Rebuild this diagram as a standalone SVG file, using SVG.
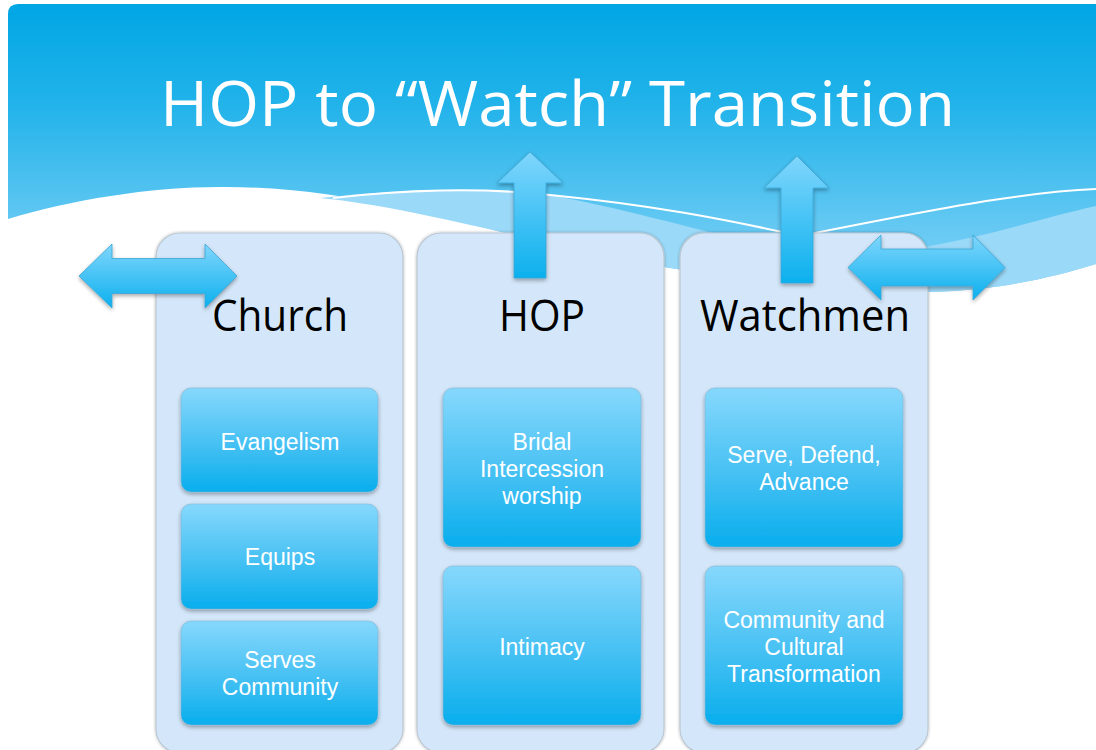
<svg xmlns="http://www.w3.org/2000/svg" width="1096" height="750" viewBox="0 0 1096 750">
<defs>
<linearGradient id="bg" x1="0" y1="0" x2="0" y2="1" gradientUnits="objectBoundingBox">
<stop offset="0" stop-color="#00a6e4"/>
<stop offset="0.35" stop-color="#22b3ea"/>
<stop offset="1" stop-color="#88d4f7"/>
</linearGradient>
<linearGradient id="box" x1="0" y1="0" x2="0" y2="1">
<stop offset="0" stop-color="#86d8fc"/>
<stop offset="0.55" stop-color="#45c0f3"/>
<stop offset="1" stop-color="#08aeed"/>
</linearGradient>
<linearGradient id="arrV" x1="0" y1="0" x2="0" y2="1">
<stop offset="0" stop-color="#80d6fc"/>
<stop offset="1" stop-color="#0cb0ee"/>
</linearGradient>
<filter id="sh" x="-10%" y="-10%" width="120%" height="125%">
<feGaussianBlur in="SourceAlpha" stdDeviation="2"/>
<feOffset dy="2" result="b"/>
<feComponentTransfer><feFuncA type="linear" slope="0.35"/></feComponentTransfer>
<feMerge><feMergeNode/><feMergeNode in="SourceGraphic"/></feMerge>
</filter>
<filter id="csh" x="-5%" y="-5%" width="110%" height="110%">
<feGaussianBlur in="SourceAlpha" stdDeviation="1.5"/>
<feComponentTransfer><feFuncA type="linear" slope="0.3"/></feComponentTransfer>
<feMerge><feMergeNode/><feMergeNode in="SourceGraphic"/></feMerge>
</filter>
<style>
.col{fill:#d4e7fa;stroke:#bcc8d3;stroke-width:1.2;filter:url(#csh)}
.box{fill:url(#box);stroke:#7fb6d4;stroke-width:0.6;filter:url(#sh)}
.hd{font-family:"Open Sans","Liberation Sans",sans-serif;font-size:43px;fill:#000;text-anchor:middle}
.bt{font-family:"Liberation Sans","Open Sans",sans-serif;font-size:23px;fill:#fff;text-anchor:middle}
.arr{fill:url(#arrV);stroke:#3aa6d6;stroke-width:0.8;stroke-linejoin:round;filter:url(#sh)}
</style>
</defs>

<rect width="1096" height="750" fill="#fff"/>

<g id="background">
<path d="M8,219 L8,14 Q8,4 18,4 L1096,4 L1096,264 C1050,278 1000,290 930,292 C850,294 760,282 670,268 C600,257 550,243 510,234 C430,214 330,186 220,187 C150,187 70,200 8,219 Z" fill="url(#bg)"/>
<path d="M320,198 C400,189 480,187 550,195 C620,208 680,225 760,245 C840,260 880,254 930,246 C1000,233 1050,216 1096,206 L1096,264 C1050,278 1000,290 930,292 C850,294 760,282 670,268 C600,257 550,243 510,234 C440,218 380,204 320,198 Z" fill="#9bd9f8"/>
<path d="M333,198 C400,190 480,187 550,195 C650,205 720,218 800,236 C880,220 950,206 1000,199 C1040,193 1070,190 1096,189" fill="none" stroke="#fff" stroke-width="2"/>
</g>

<text id="title" x="160" y="126" font-family="'Open Sans','Liberation Sans',sans-serif" font-size="63" fill="#fff" textLength="795" lengthAdjust="spacingAndGlyphs">HOP to “Watch” Transition</text>

<g id="col-church">
<rect class="col" x="156" y="233" width="247" height="520" rx="24"/>
<text class="hd" x="280" y="331" textLength="136" lengthAdjust="spacingAndGlyphs">Church</text>
</g>
<g id="col-hop">
<rect class="col" x="417" y="233" width="247" height="520" rx="24"/>
<text class="hd" x="542" y="331" textLength="86" lengthAdjust="spacingAndGlyphs">HOP</text>
</g>
<g id="col-watchmen">
<rect class="col" x="680" y="233" width="248" height="520" rx="24"/>
<text class="hd" x="805" y="331" textLength="210" lengthAdjust="spacingAndGlyphs">Watchmen</text>
</g>

<g id="evangelism">
<rect class="box" x="181" y="388" width="197" height="104" rx="10"/>
<text class="bt" x="280" y="450">Evangelism</text>
</g>
<g id="equips">
<rect class="box" x="181" y="504" width="197" height="105" rx="10"/>
<text class="bt" x="280" y="565">Equips</text>
</g>
<g id="serves-community">
<rect class="box" x="181" y="621" width="197" height="104" rx="10"/>
<text class="bt" x="280" y="668">Serves</text>
<text class="bt" x="280" y="695">Community</text>
</g>

<g id="bridal">
<rect class="box" x="443" y="388" width="198" height="159" rx="10"/>
<text class="bt" x="542" y="450">Bridal</text>
<text class="bt" x="542" y="477">Intercession</text>
<text class="bt" x="542" y="504">worship</text>
</g>
<g id="intimacy">
<rect class="box" x="443" y="566" width="198" height="159" rx="10"/>
<text class="bt" x="542" y="655">Intimacy</text>
</g>

<g id="serve-defend">
<rect class="box" x="705" y="388" width="198" height="159" rx="10"/>
<text class="bt" x="804" y="463">Serve, Defend,</text>
<text class="bt" x="804" y="490">Advance</text>
</g>
<g id="community-culture">
<rect class="box" x="705" y="566" width="198" height="159" rx="10"/>
<text class="bt" x="804" y="628">Community and</text>
<text class="bt" x="804" y="655">Cultural</text>
<text class="bt" x="804" y="682">Transformation</text>
</g>

<g id="connectors">
<path class="arr" d="M79,276 L112,244 L112,258.5 L205,258.5 L205,244 L237,276 L205,308 L205,293.5 L112,293.5 L112,308 Z"/>
<path class="arr" d="M530,152 L563,183 L546,183 L546,278 L514,278 L514,183 L497,183 Z"/>
<path class="arr" d="M797,156 L829,188 L813,188 L813,283 L781,283 L781,188 L764,188 Z"/>
<path class="arr" d="M848,267.5 L881,235 L881,249 L973,249 L973,235 L1005,267.5 L973,300 L973,286 L881,286 L881,300 Z"/>
</g>
</svg>
